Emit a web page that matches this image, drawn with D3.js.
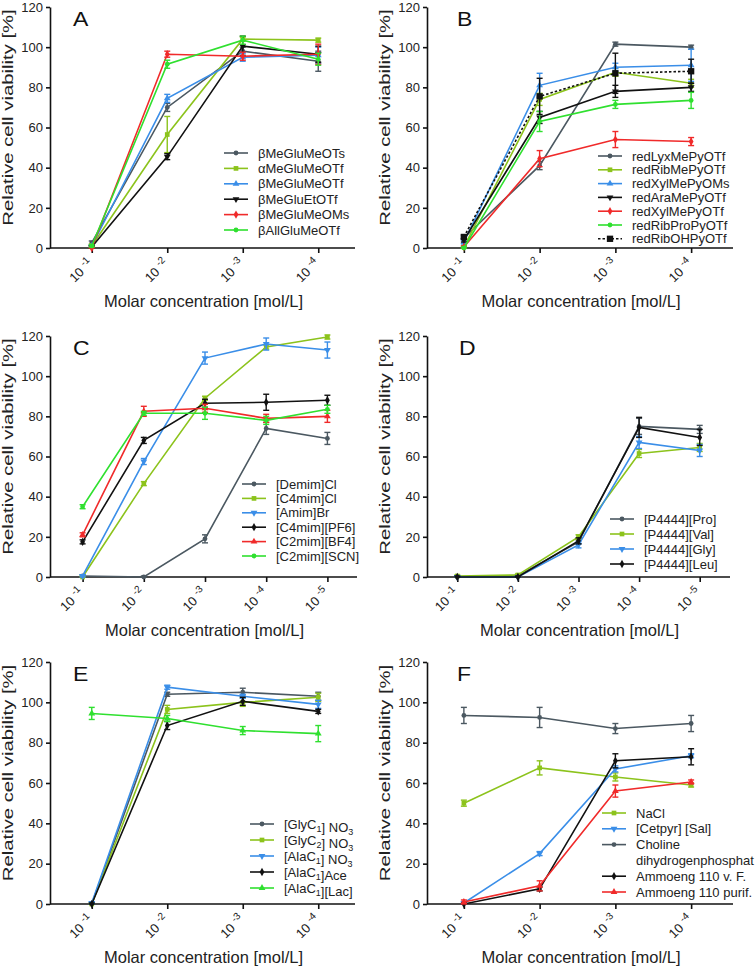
<!DOCTYPE html>
<html><head><meta charset="utf-8">
<script src="https://cdn.jsdelivr.net/npm/d3@7"></script>
<style>body{margin:0;background:#fff}svg{display:block}text{font-family:"Liberation Sans",Arial,sans-serif}</style>
</head><body>
<script>
// ---------- DATA ----------
const yTicks = [0, 20, 40, 60, 80, 100, 120];
const conc4 = ["-1", "-2", "-3", "-4"];
const conc5 = ["-1", "-2", "-3", "-4", "-5"];

// Panel A
const namesA = ["βMeGluMeOTs", "αMeGluMeOTf", "βMeGluMeOTf", "βMeGluEtOTf", "βMeGluMeOMs", "βAllGluMeOTf"];
const valuesA = [
  [2.5, 70, 98, 93],
  [1, 56.5, 104, 103.5],
  [1, 74.5, 95, 96],
  [0.5, 45.5, 100.5, 96.5],
  [0, 96.5, 95.5, 96.5],
  [1, 91.5, 103.5, 94]
];
const errorsA = [
  [1, 2, 2, 5], [1, 9, 1, 1], [0.5, 2, 2, 4], [0.5, 1.5, 5, 4], [0.5, 1.5, 2, 5], [0.5, 2, 2, 3]
];

// Panel B
const namesB = ["redLyxMePyOTf", "redRibMePyOTf", "redXylMePyOMs", "redAraMePyOTf", "redXylMePyOTf", "redRibProPyOTf", "redRibOHPyOTf"];
const valuesB = [
  [5, 41, 101.5, 100],
  [0.5, 74, 87.5, 82],
  [3, 81, 90, 91],
  [4, 65, 78, 80],
  [0.5, 44.5, 54, 53],
  [0, 63, 71.5, 73.5],
  [5.5, 75.5, 87, 88]
];
const errorsB = [
  [1, 2, 1, 1], [0.5, 3, 2, 2], [1, 6, 2, 8], [1, 3, 3, 2], [0.5, 4, 4, 2], [0.5, 5, 2, 4], [1, 9, 10, 6]
];

// Panel C
const namesC = ["[Demim]Cl", "[C4mim]Cl", "[Amim]Br", "[C4mim][PF6]", "[C2mim][BF4]", "[C2mim][SCN]"];
const valuesC = [
  [0.5, 0, 19, 74, 69],
  [0, 46.5, 89, 114.5, 119.5],
  [0.5, 57.5, 109, 116, 113],
  [17.5, 68, 86.5, 87, 88],
  [21, 82.5, 84, 79, 80],
  [35, 81.5, 81.5, 78, 83.5]
];
const errorsC = [
  [0.5, 0.5, 2, 3, 3], [0.5, 1, 1, 1, 1], [0.5, 1.5, 3, 3, 4], [1, 1.5, 2, 4, 2.5], [1, 2.5, 2, 2, 3], [1, 1, 3, 2, 2]
];

// Panel D
const namesD = ["[P4444][Pro]", "[P4444][Val]", "[P4444][Gly]", "[P4444][Leu]"];
const valuesD = [
  [0, 0.5, 17.5, 75, 73.5],
  [0.5, 1, 20, 61.5, 64.5],
  [0, 0, 16, 67, 63],
  [0, 0, 18, 74.5, 69.5]
];
const errorsD = [
  [0.5, 0.5, 1, 4, 2], [0.5, 0.5, 1, 2, 2], [0.5, 0.5, 1.5, 3, 3], [0.5, 0.5, 1.5, 5, 4]
];

// Panel E
const namesE = ["[GlyC_1] NO_3", "[GlyC_2] NO_3", "[AlaC_1] NO_3", "[AlaC_1]Ace", "[AlaC_1][Lac]"];
const valuesE = [
  [0, 104, 105, 103],
  [0, 96.5, 100, 102.5],
  [0.5, 107.5, 103, 99],
  [0, 88.5, 100.5, 95.5],
  [94.5, 92, 86, 84.5]
];
const errorsE = [
  [0.5, 1, 2, 2], [0.5, 2, 2, 2], [0.5, 1, 1, 2], [0.5, 2, 2, 1], [3, 1.5, 2, 4]
];

// Panel F
const namesF = ["NaCl", "[Cetpyr] [Sal]", "Choline|dihydrogenphosphat", "Ammoeng 110 v. F.", "Ammoeng 110 purif."];
const valuesF = [
  [50, 67.5, 63, 59],
  [0.5, 25, 67, 73.5],
  [93.5, 92.5, 87, 89.5],
  [0, 7.5, 71, 73],
  [1, 9, 56, 60.5]
];
const errorsF = [
  [1.5, 3.5, 2, 1], [0.5, 1, 1.5, 1], [4, 5, 2.5, 4], [0.5, 1, 3.5, 4], [1, 2.5, 3, 1]
];

// ---------- STYLES ----------
const C = {gray: "#4b5861", yg: "#8cc31c", blue: "#3a8ee8", black: "#111111", red: "#f02a2a", green: "#2fe02f"};
const stylesA = [["gray","circle"],["yg","square"],["blue","triUp"],["black","triDown"],["red","diamond"],["green","circle"]];
const stylesB = [["gray","circle"],["yg","square"],["blue","triUp"],["black","triDown"],["red","diamond"],["green","circle"],["black","bigsquare","dot"]];
const stylesC = [["gray","circle"],["yg","square"],["blue","triDown"],["black","diamond"],["red","triUp"],["green","circle"]];
const stylesD = [["gray","circle"],["yg","square"],["blue","triDown"],["black","diamond"]];
const stylesE = [["gray","circle"],["yg","square"],["blue","triDown"],["black","diamond"],["green","triUp"]];
const stylesF = [["yg","square"],["blue","triDown"],["gray","circle"],["black","diamond"],["red","triUp"]];

const W = 755, H = 970;
const svg = d3.select("body").append("svg").attr("width", W).attr("height", H);

function symbolPath(kind) {
  const m = {
    circle: d3.symbol(d3.symbolCircle, 18),
    square: d3.symbol(d3.symbolSquare, 22),
    bigsquare: d3.symbol(d3.symbolSquare, 40),
    triUp: d3.symbol(d3.symbolTriangle, 20),
    triDown: d3.symbol(d3.symbolTriangle, 20),
    diamond: d3.symbol(d3.symbolDiamond, 20)
  };
  return m[kind]();
}

function addRichText(sel, str) {
  const parts = str.split(/(_\d)/).filter(s => s.length);
  parts.forEach(p => {
    if (p[0] === "_") {
      sel.append("tspan").attr("font-size", 9).attr("dy", 3).text(p.slice(1));
      sel.append("tspan").attr("dy", -3).text("");
    } else {
      sel.append("tspan").text(p);
    }
  });
}

function panel(cfg) {
  const g = svg.append("g");
  const x = d3.scalePoint().domain(cfg.cats).range(cfg.xr).padding(0.5);
  const y = d3.scaleLinear().domain([0, 120]).range([cfg.y0, cfg.y1]);

  // y axis
  const ya = g.append("g").attr("transform", `translate(${cfg.ax},0)`)
    .call(d3.axisLeft(y).tickValues(yTicks).tickSize(4).tickSizeOuter(0).tickPadding(3));
  ya.select(".domain").attr("stroke", "#111").attr("stroke-width", 1.6);
  ya.selectAll(".tick line").attr("stroke", "#111").attr("stroke-width", 1.6);
  ya.selectAll(".tick text").attr("font-size", 13).attr("fill", "#222")
    .attr("font-family", "'Liberation Sans',Arial,sans-serif");

  // x axis
  const xa = g.append("g").attr("transform", `translate(0,${cfg.y0})`)
    .call(d3.axisBottom(x).tickSize(5).tickSizeOuter(0).tickFormat(""));
  xa.select(".domain").remove();
  xa.selectAll(".tick line").attr("stroke", "#111").attr("stroke-width", 1.6);
  g.append("line").attr("x1", cfg.ax).attr("x2", cfg.axEnd).attr("y1", cfg.y0).attr("y2", cfg.y0)
    .attr("stroke", "#111").attr("stroke-width", 1.6);
  cfg.cats.forEach(c => {
    const t = g.append("text")
      .attr("transform", `translate(${x(c) + 2},${cfg.y0 + 16}) rotate(-45)`)
      .attr("text-anchor", "end").attr("font-size", 13).attr("fill", "#222");
    t.append("tspan").text("10 ");
    t.append("tspan").attr("font-size", 10).attr("dy", -5).text(c);
  });

  // titles
  g.append("text")
    .attr("transform", `translate(${cfg.ax - 37},${(cfg.y0 + cfg.y1) / 2 - 10}) rotate(-90) scale(1.45,1)`)
    .attr("text-anchor", "middle").attr("font-size", 14).attr("fill", "#222")
    .text("Relative cell viability [%]");
  g.append("text").attr("x", (cfg.ax + cfg.axEnd) / 2 + 1).attr("y", cfg.y0 + 59)
    .attr("text-anchor", "middle").attr("font-size", 16.5).attr("fill", "#222")
    .text("Molar concentration [mol/L]");
  g.append("text").attr("transform", `translate(${cfg.lx},${cfg.y1 + 19}) scale(1.15,1)`)
    .attr("font-size", 20).attr("fill", "#111").text(cfg.letter);

  // series
  cfg.values.forEach((vals, i) => {
    const [col, sym, dash] = cfg.styles[i];
    const color = C[col];
    const pts = cfg.cats.map((c, j) => ({x: x(c), v: vals[j], e: cfg.errors[i][j]}));
    const sg = g.append("g");
    sg.append("path").datum(pts)
      .attr("d", d3.line().x(d => d.x).y(d => y(d.v)))
      .attr("fill", "none").attr("stroke", color).attr("stroke-width", 1.6)
      .attr("stroke-dasharray", dash ? "2.5,2" : null);
    pts.forEach(d => {
      const yt = y(d.v + d.e), yb = y(Math.max(0, d.v - d.e));
      sg.append("line").attr("x1", d.x).attr("x2", d.x).attr("y1", yt).attr("y2", yb)
        .attr("stroke", color).attr("stroke-width", 1.4);
      [yt, yb].forEach(yy => sg.append("line").attr("x1", d.x - 3).attr("x2", d.x + 3)
        .attr("y1", yy).attr("y2", yy).attr("stroke", color).attr("stroke-width", 1.4));
      sg.append("path").attr("d", symbolPath(sym))
        .attr("transform", `translate(${d.x},${y(d.v)})${sym === "triDown" ? " rotate(180)" : ""}`)
        .attr("fill", color);
    });
  });

  // legend
  let row = 0;
  cfg.names.forEach((nm, i) => {
    const [col, sym, dash] = cfg.styles[i];
    const color = C[col];
    const ly = cfg.legY + row * cfg.legDy;
    g.append("line").attr("x1", cfg.legX).attr("x2", cfg.legX + 24).attr("y1", ly).attr("y2", ly)
      .attr("stroke", color).attr("stroke-width", 1.6).attr("stroke-dasharray", dash ? "2.5,2" : null);
    g.append("path").attr("d", symbolPath(sym))
      .attr("transform", `translate(${cfg.legX + 12},${ly})${sym === "triDown" ? " rotate(180)" : ""}`)
      .attr("fill", color);
    const lines = nm.split("|");
    lines.forEach((ln, k) => {
      const t = g.append("text").attr("x", cfg.legX + 34).attr("y", ly + 4.5 + k * cfg.legDy)
        .attr("font-size", 13).attr("fill", "#222");
      addRichText(t, ln);
    });
    row += lines.length;
  });
}

const L = 0, R = 377;
panel({letter: "A", cats: conc4, names: namesA, values: valuesA, errors: errorsA, styles: stylesA,
  ax: L + 50, axEnd: L + 355, xr: [L + 54, L + 356], y0: 248, y1: 7, lx: L + 73, legX: L + 224, legY: 153, legDy: 15.4});
panel({letter: "B", cats: conc4, names: namesB, values: valuesB, errors: errorsB, styles: stylesB,
  ax: R + 50, axEnd: R + 356, xr: [R + 49, R + 352], y0: 248, y1: 7, lx: R + 80, legX: R + 221, legY: 156, legDy: 13.8});
panel({letter: "C", cats: conc5, names: namesC, values: valuesC, errors: errorsC, styles: stylesC,
  ax: L + 50, axEnd: L + 357, xr: [L + 52, L + 358], y0: 577, y1: 336, lx: L + 73, legX: L + 242, legY: 484, legDy: 14.4});
panel({letter: "D", cats: conc5, names: namesD, values: valuesD, errors: errorsD, styles: stylesD,
  ax: R + 50, axEnd: R + 353, xr: [R + 50, R + 353], y0: 577, y1: 336, lx: R + 82, legX: R + 233, legY: 519, legDy: 15});
panel({letter: "E", cats: conc4, names: namesE, values: valuesE, errors: errorsE, styles: stylesE,
  ax: L + 50, axEnd: L + 355, xr: [L + 54, L + 356], y0: 904, y1: 662, lx: L + 73, legX: L + 250, legY: 824, legDy: 16});
panel({letter: "F", cats: conc4, names: namesF, values: valuesF, errors: errorsF, styles: stylesF,
  ax: R + 50, axEnd: R + 356, xr: [R + 49, R + 352], y0: 904, y1: 662, lx: R + 80, legX: R + 225, legY: 813, legDy: 15.8});
</script>
</body></html>
